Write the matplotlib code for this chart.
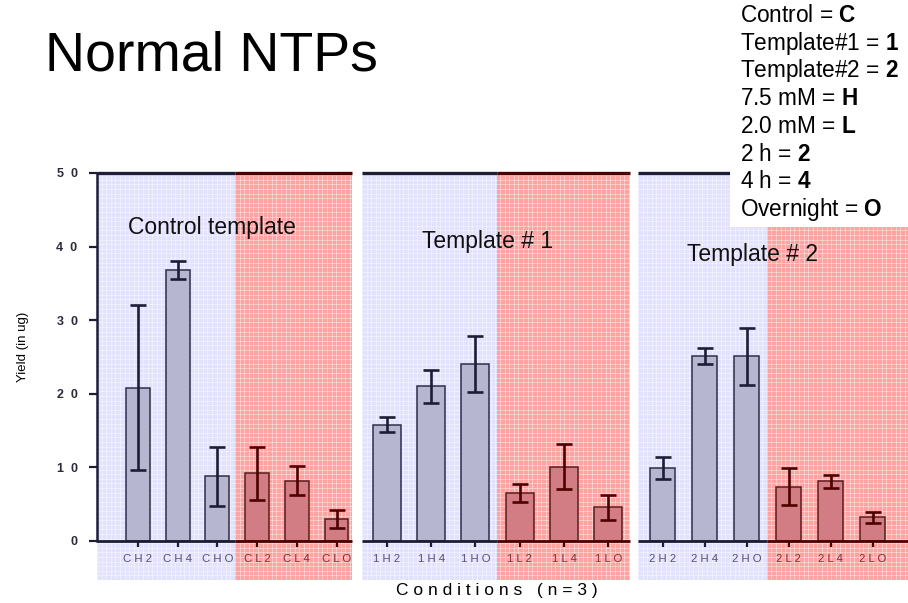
import numpy as np
import matplotlib
matplotlib.use('Agg')
import matplotlib.pyplot as plt
from matplotlib.patches import Rectangle

plt.rcParams['font.family'] = 'Liberation Sans'
plt.rcParams['mathtext.fontset'] = 'custom'
plt.rcParams['mathtext.rm'] = 'Liberation Sans'
plt.rcParams['mathtext.bf'] = 'Liberation Sans:bold'

##
#   Values (yield in ug, +/- error)
labels_c = ['CH2', 'CH4', 'CHO', 'CL2', 'CL4', 'CLO']
yield_c = [20.8, 36.8, 8.8, 9.2, 8.2, 3.0]
err_c = [11.2, 1.2, 4.0, 3.6, 2.0, 1.2]

labels_1 = ['1H2', '1H4', '1HO', '1L2', '1L4', '1LO']
yield_1 = [15.8, 21.0, 24.1, 6.5, 10.1, 4.6]
err_1 = [1.0, 2.2, 3.8, 1.2, 3.1, 1.7]

labels_2 = ['2H2', '2H4', '2HO', '2L2', '2L4', '2LO']
yield_2 = [9.9, 25.1, 25.1, 7.4, 8.1, 3.2]
err_2 = [1.45, 1.1, 3.9, 2.55, 0.9, 0.8]

panel_titles = ['Control template', 'Template # 1', 'Template # 2']
yticks = [0, 10, 20, 30, 40, 50]

legend_lines = [('Control = ', 'C'), ('Template#1 = ', '1'), ('Template#2 = ', '2'),
                ('7.5 mM = ', 'H'), ('2.0 mM = ', 'L'), ('2 h = ', '2'),
                ('4 h = ', '4'), ('Overnight = ', 'O')]

#   colours
BLUE_BG = '#e2e2fe'
RED_BG = '#ffa2a2'
BLUE_BAR, BLUE_EDGE = '#b6b6d0', '#2e2e4a'
RED_BAR, RED_EDGE = '#d27d84', '#5b1a1a'
NAVY = '#1d1d38'
DRED = '#4d0000'
LAB_BLUE = '#574f76'
LAB_RED = '#7a3434'

W, H = 908, 603
fig = plt.figure(figsize=(W / 100, H / 100), dpi=100)
fig.patch.set_facecolor('white')

#   panel layout in pixels: left, right, split (blue|red), xlim
panels = [
    dict(l=97, r=352, xlim=(-1.03, 5.39), split=2.44, bw=0.6,
         labels=labels_c, vals=yield_c, errs=err_c, title=panel_titles[0], tpos=(-0.25, 41.7)),
    dict(l=362, r=630, xlim=(-0.56, 5.49), split=2.49, bw=0.63,
         labels=labels_1, vals=yield_1, errs=err_1, title=panel_titles[1], tpos=(0.8, 39.8)),
    dict(l=638, r=908, xlim=(-0.59, 5.84), split=2.48, bw=0.6,
         labels=labels_2, vals=yield_2, errs=err_2, title=panel_titles[2], tpos=(0.57, 38.0)),
]
top_px, bot_px = 173, 580
ymin = -5.3

for k, p in enumerate(panels):
    ax = fig.add_axes([p['l'] / W, 1 - bot_px / H, (p['r'] - p['l']) / W, (bot_px - top_px) / H])
    x0, x1 = p['xlim']
    sp = p['split']
    ax.set_xlim(x0, x1)
    ax.set_ylim(ymin, 50)

    #   background halves
    ax.axvspan(x0, sp, color=BLUE_BG, zorder=0, lw=0)
    ax.axvspan(sp, x1, color=RED_BG, zorder=0, lw=0)

    #   fine grid texture
    wpx = p['r'] - p['l']
    hpx = bot_px - top_px
    for f in np.arange(0, 1, 4.6 / wpx):
        ax.plot([f, f], [0, 1], transform=ax.transAxes, color='white', alpha=0.4, lw=0.7, zorder=1)
    for f in np.arange(0, 1, 4.6 / hpx):
        ax.plot([0, 1], [f, f], transform=ax.transAxes, color='white', alpha=0.4, lw=0.7, zorder=1)

    x = np.arange(len(p['vals']))
    in_blue = x < sp
    fills = [BLUE_BAR if b else RED_BAR for b in in_blue]
    edges = [BLUE_EDGE if b else RED_EDGE for b in in_blue]
    ax.bar(x, p['vals'], p['bw'], color=fills, edgecolor=edges, lw=1.1, zorder=3)
    for i in range(len(x)):
        c = NAVY if in_blue[i] else DRED
        ax.errorbar(x[i], p['vals'][i], yerr=p['errs'][i], fmt='none', ecolor=c,
                    elinewidth=1.9, capsize=6, capthick=1.9, zorder=4)
        #   tick and label
        ax.plot([x[i], x[i]], [0, -0.75], color=c, lw=1.6, zorder=5, solid_capstyle='butt')
        ax.text(x[i], -2.45, ' '.join(p['labels'][i]), ha='center', va='center', fontsize=8.2,
                color=LAB_BLUE if in_blue[i] else LAB_RED, zorder=5)

    #   bottom and top lines
    for yv, lw in [(0, 2.0), (50, 2.4)]:
        ax.plot([x0, sp], [yv, yv], color=NAVY, lw=lw, zorder=5, clip_on=False, solid_capstyle='butt')
        ax.plot([sp, x1], [yv, yv], color=DRED, lw=lw, zorder=5, clip_on=False, solid_capstyle='butt')

    ax.text(p['tpos'][0], p['tpos'][1], p['title'], fontsize=16.5, ha='left', va='baseline',
            color='#101010', zorder=6)

    ax.set_xticks([])
    for s in ['top', 'right', 'bottom']:
        ax.spines[s].set_visible(False)
    if k == 0:
        ax.spines['left'].set_bounds(0, 50)
        ax.spines['left'].set_color(NAVY)
        ax.spines['left'].set_linewidth(1.8)
        ax.set_yticks(yticks, ['  '.join(str(v)) for v in yticks])
        ax.tick_params(axis='y', direction='out', length=6, width=1.6, color=NAVY,
                       labelsize=9, pad=8, labelcolor='#2b2b3b')
        for t in ax.get_yticklabels():
            t.set_fontweight('bold')
    else:
        ax.spines['left'].set_visible(False)
        ax.set_yticks([])

fig.text(23 / W, 1 - 347 / H, 'Yield (in ug)', rotation=90, ha='center', va='center', fontsize=9.5)
fig.text(497 / W, 1 - 590 / H, 'C o n d i t i o n s   ( n = 3 )', ha='center', va='center',
         fontsize=12.5)
fig.text(45 / W, 1 - 70.7 / H, 'Normal NTPs', fontsize=40, ha='left', va='baseline')

#   key box in the top right corner
fig.patches.append(Rectangle((730 / W, 1 - 227 / H), 178 / W, 227 / H, transform=fig.transFigure,
                             facecolor='white', edgecolor='none', zorder=10))
for i, (a, b) in enumerate(legend_lines):
    fig.text(740 / W, 1 - (22 + i * 27.7) / H, a + r'$\mathbf{' + b + '}$', fontsize=16.3,
             ha='left', va='baseline', zorder=11)

fig.savefig('out.png', dpi=100)
